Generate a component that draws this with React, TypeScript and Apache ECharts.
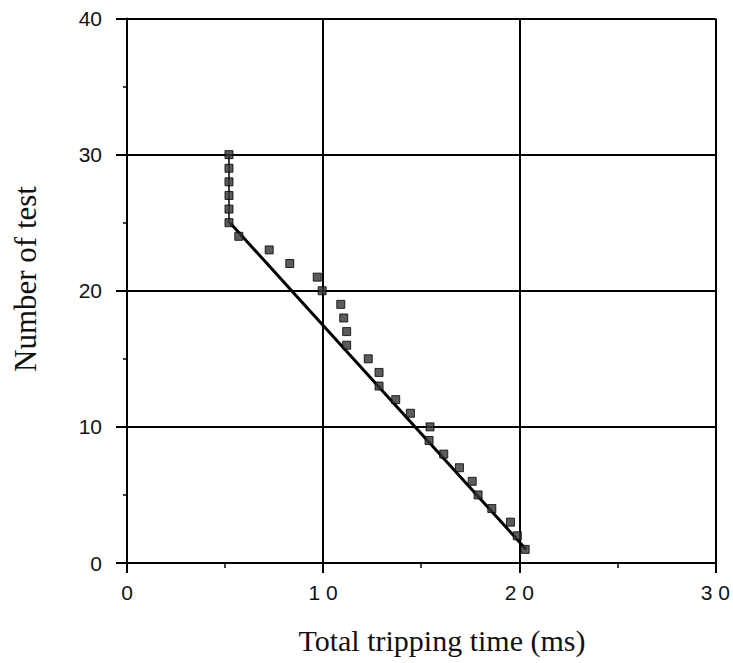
import React, { useEffect, useRef } from "react";
import * as echarts from "echarts";

// Test number (y) and total tripping time in ms (x)
const testNumbers = [
  1, 2, 3, 4, 5, 6, 7, 8, 9, 10, 11, 12, 13, 14, 15, 16, 17, 18, 19, 20, 21, 22,
  23, 24, 25, 26, 27, 28, 29, 30,
];
const trippingTimes = [
  20.3, 19.9, 19.55, 18.6, 17.9, 17.6, 16.95, 16.15, 15.4, 15.45, 14.45, 13.7,
  12.85, 12.85, 12.3, 11.2, 11.2, 11.05, 10.9, 9.95, 9.7, 8.3, 7.25, 5.7, 5.2,
  5.2, 5.2, 5.2, 5.2, 5.2,
];
// Fitted line: vertical part then straight descent
const fitVertical = [
  [5.2, 30],
  [5.2, 25],
];
const fitDiagonal = [
  [5.25, 25],
  [20.35, 1],
];
const xTicks = [0, 10, 20, 30];
const yTicks = [0, 10, 20, 30, 40];

const xTitle = "Total tripping time (ms)";
const yTitle = "Number of test";

export default function App() {
  const ref = useRef<HTMLDivElement>(null);
  useEffect(() => {
    if (!ref.current) return;
    const chart = echarts.init(ref.current, undefined, { renderer: "svg" });
    const points = testNumbers.map((n, i) => [trippingTimes[i], n]);
    const labelFont = "'Liberation Sans', Arial, Helvetica, sans-serif";
    const titleFont = "'Liberation Serif', 'Times New Roman', serif";
    chart.setOption({
      animation: false,
      backgroundColor: "#ffffff",
      grid: { left: 127, right: 16, top: 18.5, bottom: 100, containLabel: false },
      xAxis: {
        type: "value",
        min: xTicks[0],
        max: xTicks[xTicks.length - 1],
        interval: 10,
        axisLine: { show: true, onZero: false, lineStyle: { color: "#000", width: 2 } },
        axisTick: { show: true, inside: false, length: 10, lineStyle: { color: "#000", width: 2 } },
        minorTick: { show: true, splitNumber: 2, length: 5, lineStyle: { color: "#000", width: 1.5 } },
        splitLine: { show: true, lineStyle: { color: "#000", width: 2 } },
        axisLabel: {
          margin: 19,
          fontSize: 21,
          color: "#111",
          fontFamily: labelFont,
          formatter: (v: number) => String(v).split("").join(" "),
        },
      },
      yAxis: {
        type: "value",
        min: yTicks[0],
        max: yTicks[yTicks.length - 1],
        interval: 10,
        axisLine: { show: true, onZero: false, lineStyle: { color: "#000", width: 2 } },
        axisTick: { show: true, inside: false, length: 11, lineStyle: { color: "#000", width: 2 } },
        minorTick: { show: true, splitNumber: 2, length: 4, lineStyle: { color: "#000", width: 1.5 } },
        splitLine: { show: true, lineStyle: { color: "#000", width: 2 } },
        axisLabel: {
          margin: 25,
          fontSize: 21,
          color: "#111",
          fontFamily: labelFont,
        },
      },
      series: [
        {
          type: "line",
          data: fitVertical,
          symbol: "none",
          lineStyle: { color: "#000", width: 1.5 },
          z: 3,
        },
        {
          type: "line",
          data: fitDiagonal,
          symbol: "none",
          lineStyle: { color: "#000", width: 3 },
          z: 3,
        },
        {
          type: "scatter",
          data: points,
          symbol: "rect",
          symbolSize: 8,
          itemStyle: { color: "#333", borderColor: "#000", borderWidth: 1 },
          z: 4,
        },
      ],
      graphic: [
        {
          type: "text",
          x: 442,
          y: 640,
          style: {
            text: xTitle,
            fontSize: 30,
            fontFamily: titleFont,
            fill: "#111",
            textAlign: "center",
            textVerticalAlign: "middle",
          },
        },
        {
          type: "text",
          x: 25,
          y: 279,
          rotation: Math.PI / 2,
          style: {
            text: yTitle,
            fontSize: 31,
            fontFamily: titleFont,
            fill: "#111",
            textAlign: "center",
            textVerticalAlign: "middle",
          },
        },
      ],
    });
    return () => chart.dispose();
  }, []);
  return (
    <div
      ref={ref}
      style={{ position: "fixed", left: 0, top: 0, width: 733, height: 663, background: "#fff" }}
    />
  );
}
